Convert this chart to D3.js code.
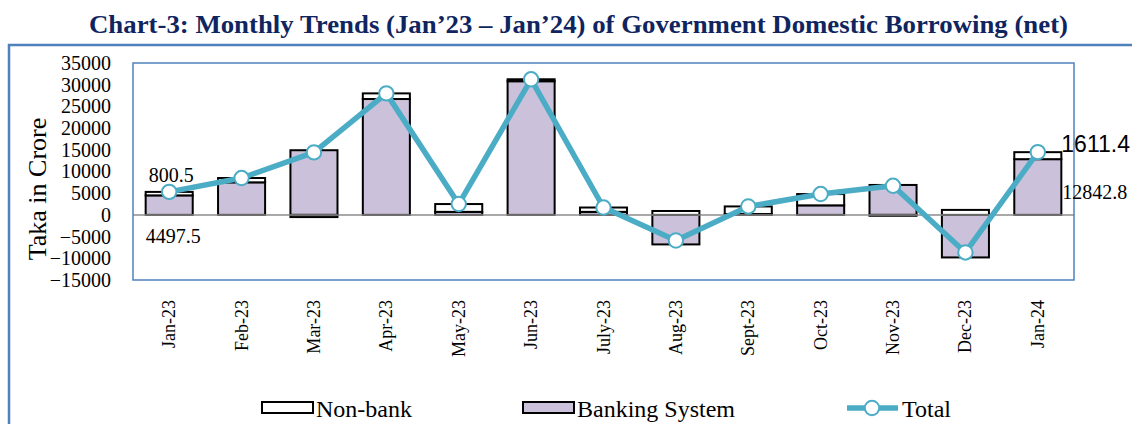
<!DOCTYPE html>
<html>
<head>
<meta charset="utf-8">
<script src="https://cdn.jsdelivr.net/npm/d3@7"></script>
<style>
  html, body { margin: 0; padding: 0; background: #fff; }
  svg { display: block; }
</style>
</head>
<body>
<svg id="chart" width="1132" height="424"></svg>
<script>
// ---- data ----
const months = ["Jan-23","Feb-23","Mar-23","Apr-23","May-23","Jun-23","July-23","Aug-23","Sept-23","Oct-23","Nov-23","Dec-23","Jan-24"];
const bankingSystem = [4497.5, 7500, 14900, 26700, 700, 30800, 700, -6800, 200, 2200, 6900, -9800, 12842.8];
const nonBank       = [800.5, 1000, -500, 1300, 1800, 450, 1000, 900, 1750, 2600, -200, 1150, 1611.4];
const yTicks = [-15000,-10000,-5000,0,5000,10000,15000,20000,25000,30000,35000];
const titleText = "Chart-3: Monthly Trends (Jan\u201923 \u2013 Jan\u201924) of Government Domestic Borrowing (net)";
const yAxisTitle = "Taka in Crore";
const legendLabels = ["Non-bank", "Banking System", "Total"];

const rows = months.map((m, i) => ({
  month: m,
  banking: bankingSystem[i],
  nonbank: nonBank[i],
  total: bankingSystem[i] + nonBank[i]
}));

// ---- layout ----
const svg = d3.select("#chart");
const plot = { x0: 133, x1: 1074, y0: 63, y1: 280 };
const serif = "'Liberation Serif', 'Times New Roman', serif";
const blue = "#4f81bd";
const teal = "#4bacc6";
const lavender = "#ccc1da";

const x = d3.scaleBand().domain(months).range([plot.x0, plot.x1])
  .paddingInner(0.35).paddingOuter(0.175);
const y = d3.scaleLinear().domain([-15000, 35000]).range([plot.y1, plot.y0]);

// outer frame
svg.append("path")
  .attr("d", `M9,424 L9,45 L1132,45`)
  .attr("fill", "none").attr("stroke", blue).attr("stroke-width", 2.5);

// title
svg.append("text")
  .attr("x", 89).attr("y", 33)
  .attr("font-family", serif).attr("font-weight", "bold")
  .attr("font-size", 25).attr("fill", "#102560")
  .attr("textLength", 979).attr("lengthAdjust", "spacingAndGlyphs")
  .text(titleText);

// y axis labels (no line, no ticks)
const yAxis = d3.axisLeft(y).tickValues(yTicks).tickSize(0).tickPadding(0).tickFormat(d3.format("d"));
const gy = svg.append("g").attr("transform", `translate(111,0)`).call(yAxis);
gy.select(".domain").remove();
gy.selectAll("text").attr("font-family", serif).attr("font-size", 20).attr("fill", "#000");

// y axis title
svg.append("text")
  .attr("transform", `translate(46,189) rotate(-90)`)
  .attr("text-anchor", "middle")
  .attr("font-family", serif).attr("font-size", 26).attr("fill", "#000")
  .text(yAxisTitle);

// stacked bars (banking first, non-bank stacked on it; diverging)
const stack = d3.stack().keys(["banking", "nonbank"]).offset(d3.stackOffsetDiverging);
const series = stack(rows);
const fills = { banking: lavender, nonbank: "#ffffff" };
svg.append("g").selectAll("g").data(series).join("g")
  .attr("fill", d => fills[d.key])
  .selectAll("rect").data(d => d).join("rect")
    .attr("x", d => x(d.data.month))
    .attr("width", x.bandwidth())
    .attr("y", d => y(Math.max(d[0], d[1])))
    .attr("height", d => Math.abs(y(d[0]) - y(d[1])))
    .attr("stroke", "#000").attr("stroke-width", 2);

// zero line
svg.append("line")
  .attr("x1", plot.x0).attr("x2", plot.x1)
  .attr("y1", y(0)).attr("y2", y(0))
  .attr("stroke", "#8c8c8c").attr("stroke-width", 1.5);

// plot border
svg.append("rect")
  .attr("x", plot.x0).attr("y", plot.y0)
  .attr("width", plot.x1 - plot.x0).attr("height", plot.y1 - plot.y0)
  .attr("fill", "none").attr("stroke", blue).attr("stroke-width", 1.5);

// total line
const cx = d => x(d.month) + x.bandwidth() / 2;
svg.append("path").datum(rows)
  .attr("d", d3.line().x(cx).y(d => y(d.total)))
  .attr("fill", "none").attr("stroke", teal).attr("stroke-width", 5.5)
  .attr("stroke-linejoin", "round");
svg.append("g").selectAll("circle").data(rows).join("circle")
  .attr("cx", cx).attr("cy", d => y(d.total)).attr("r", 7.2)
  .attr("fill", "#fff").attr("stroke", teal).attr("stroke-width", 2);

// data labels
const first = rows[0], last = rows[rows.length - 1];
svg.append("text")
  .attr("x", cx(first) + 2).attr("y", y(first.total) - 10)
  .attr("text-anchor", "middle").attr("font-family", serif).attr("font-size", 20)
  .text(d3.format(".1f")(first.nonbank));
svg.append("text")
  .attr("x", cx(first) + 4).attr("y", y(0) + 28)
  .attr("text-anchor", "middle").attr("font-family", serif).attr("font-size", 20)
  .text(d3.format(".1f")(first.banking));
svg.append("text")
  .attr("x", x(last.month) + x.bandwidth()).attr("y", y(last.total))
  .attr("font-family", "'Liberation Sans', Arial, sans-serif").attr("font-size", 23)
  .text(d3.format(".1f")(last.nonbank));
svg.append("text")
  .attr("x", x(last.month) + x.bandwidth() + 1).attr("y", y(last.banking / 2) + 12)
  .attr("font-family", serif).attr("font-size", 20)
  .text(d3.format(".1f")(last.banking));

// x labels (rotated)
svg.append("g").selectAll("text").data(months).join("text")
  .attr("transform", m => `translate(${x(m) + x.bandwidth() / 2 + 6},300) rotate(-90)`)
  .attr("text-anchor", "end")
  .attr("font-family", serif).attr("font-size", 18).attr("fill", "#000")
  .text(m => m);

// legend
const lg = svg.append("g").attr("font-family", serif).attr("font-size", 24);
lg.append("rect").attr("x", 262).attr("y", 402).attr("width", 51).attr("height", 11)
  .attr("fill", "#fff").attr("stroke", "#000").attr("stroke-width", 2);
lg.append("text").attr("x", 316).attr("y", 417).text(legendLabels[0]);
lg.append("rect").attr("x", 523).attr("y", 402).attr("width", 51).attr("height", 11)
  .attr("fill", lavender).attr("stroke", "#000").attr("stroke-width", 2);
lg.append("text").attr("x", 577).attr("y", 417).text(legendLabels[1]);
lg.append("line").attr("x1", 847).attr("x2", 898).attr("y1", 408).attr("y2", 408)
  .attr("stroke", teal).attr("stroke-width", 5.5);
lg.append("circle").attr("cx", 872).attr("cy", 408).attr("r", 7.2)
  .attr("fill", "#fff").attr("stroke", teal).attr("stroke-width", 2);
lg.append("text").attr("x", 902).attr("y", 417).text(legendLabels[2]);
</script>
</body>
</html>
